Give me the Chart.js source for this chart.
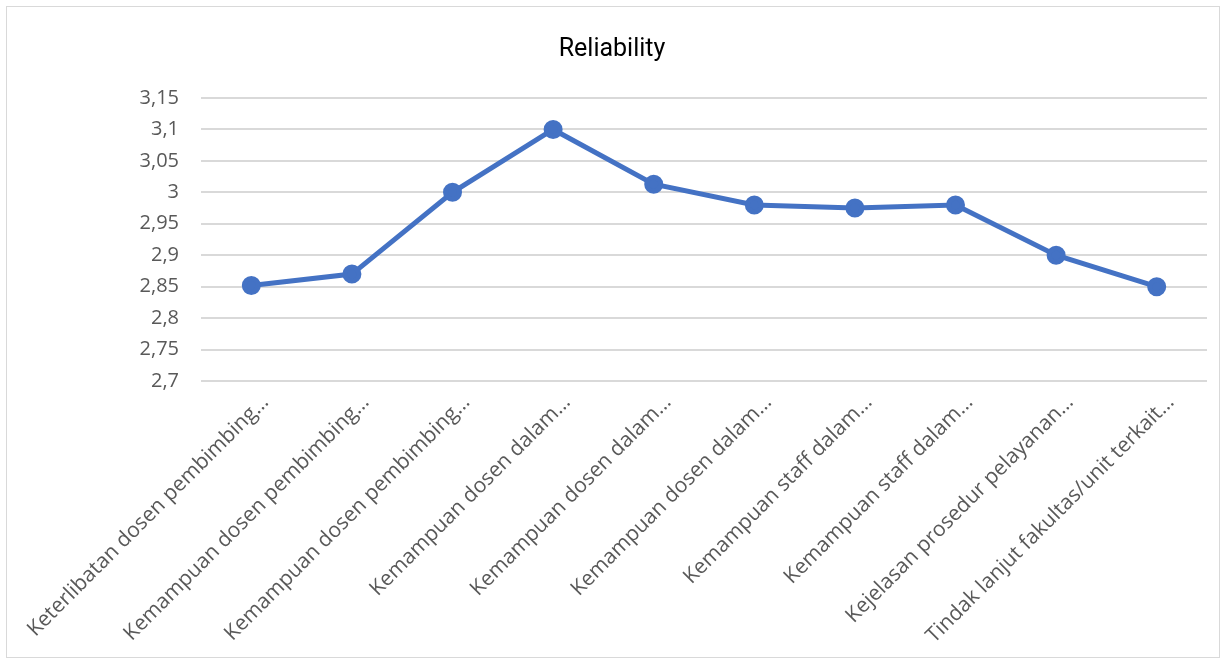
<!DOCTYPE html>
<html>
<head>
<meta charset="utf-8">
<script src="https://cdn.jsdelivr.net/npm/chart.js@4/dist/chart.umd.min.js"></script>
<style>
  html, body { margin: 0; padding: 0; background: #fff; }
  #box {
    position: absolute; left: 6px; top: 6px;
    width: 1212px; height: 650px;
    border: 1px solid #d9d9d9;
  }
</style>
</head>
<body>
<div id="box"><canvas id="myChart"></canvas></div>
<script>
// Reliability line chart
const categories = [
  'Keterlibatan dosen pembimbing…',
  'Kemampuan dosen pembimbing…',
  'Kemampuan dosen pembimbing…',
  'Kemampuan dosen dalam…',
  'Kemampuan dosen dalam…',
  'Kemampuan dosen dalam…',
  'Kemampuan staff dalam…',
  'Kemampuan staff dalam…',
  'Kejelasan prosedur pelayanan…',
  'Tindak lanjut fakultas/unit terkait…'
];
const reliability = [2.852, 2.87, 3.0, 3.1, 3.013, 2.98, 2.975, 2.98, 2.9, 2.85];
const yMin = 2.7;
const yMax = 3.15;
const yStep = 0.05;

const ctx = document.getElementById('myChart');

new Chart(ctx, {
    type: 'line',
    data: {
        labels: categories,
        datasets: [{
            label: 'Reliability',
            data: reliability,
            borderColor: '#4472C4',
            backgroundColor: '#4472C4',
            borderWidth: 5,
            pointRadius: 7,
            pointHoverRadius: 7,
            tension: 0,
            fill: false
        }]
    },
    options: {
        responsive: true,
        maintainAspectRatio: false,
        animation: false,
        layout: { padding: { left: 10, right: 12, top: 28, bottom: 0 } },
        plugins: {
            legend: { display: false },
            tooltip: { enabled: false },
            title: {
                display: true,
                text: 'Reliability',
                color: '#000',
                font: { family: '"Liberation Sans Narrow", Roboto, sans-serif', size: 25, weight: 'normal' },
                padding: { top: 0, bottom: 33 }
            }
        },
        scales: {
            x: {
                offset: true,
                afterFit: function (scale) { scale.height = 276; },
                grid: { display: false },
                border: { display: false },
                ticks: {
                    color: '#595959',
                    font: { family: '"Open Sans", sans-serif', size: 21 },
                    minRotation: 45,
                    maxRotation: 45,
                    autoSkip: false,
                    labelOffset: 14,
                    padding: 1
                }
            },
            y: {
                min: yMin,
                max: yMax,
                afterFit: function (scale) { scale.width = 173; },
                grid: { color: '#d9d9d9', lineWidth: 2, drawTicks: false },
                border: { display: false },
                ticks: {
                    stepSize: yStep,
                    color: '#595959',
                    padding: 22,
                    font: { family: '"Open Sans", sans-serif', size: 20 },
                    callback: function (v) {
                        return String(Number(v.toFixed(2))).replace('.', ',');
                    }
                }
            }
        }
    }
});
</script>
</body>
</html>
